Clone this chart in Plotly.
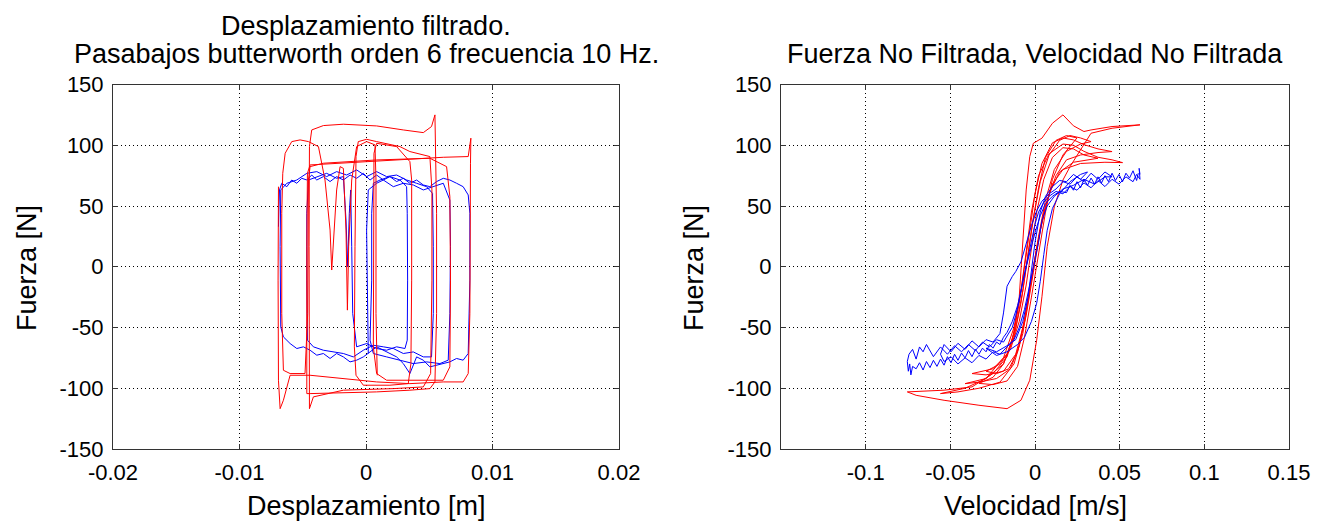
import plotly.graph_objects as go

# ---------------- Left panel: Fuerza vs Desplazamiento ----------------
disp_red = [-0.00692, -0.00695, -0.00692, -0.00679, -0.00653, -0.00600, -0.00442, -0.00179, 0.00084, 0.00347,
            0.00611, 0.00768, 0.00808, 0.00821, 0.00821, 0.00826, 0.00829, 0.00808, 0.00611, 0.00347,
            0.00084, -0.00179, -0.00442, -0.00463, -0.00468, -0.00468, -0.00468, -0.00442, -0.00179, 0.00084,
            0.00347, 0.00505, 0.00545, 0.00558, 0.00558, 0.00553, 0.00545, 0.00518, 0.00453, 0.00295,
            0.00084, -0.00179, -0.00337, -0.00429, -0.00447, -0.00450, -0.00450, -0.00447, -0.00416, -0.00179,
            0.00216, 0.00453, 0.00511, 0.00521, 0.00521, 0.00505, 0.00347, 0.00268, 0.00084, 0.00005,
            -0.00061, -0.00079, -0.00087, -0.00092, -0.00079, -0.00021, 0.00189, 0.00334, 0.00355, 0.00361,
            0.00361, 0.00347, 0.00242, 0.00084, 0.00063, 0.00058, 0.00058, 0.00084, 0.00163, 0.00611,
            0.00663, 0.00668, 0.00663, 0.00637, 0.00505, 0.00084, -0.00179, -0.00337, -0.00442, -0.00455,
            -0.00461, -0.00482, -0.00600, -0.00653, -0.00666, -0.00666, -0.00658, -0.00639, -0.00587, -0.00521,
            -0.00455, -0.00376, -0.00324, -0.00284, -0.00271, -0.00253, -0.00232, -0.00205, -0.00179, -0.00158,
            -0.00147, -0.00137, -0.00113, -0.00074, 0.00005, 0.00071, 0.00079, 0.00079, 0.00089]
force_red = [65.9, -11.0, -93.4, -116.8, -109.9, -89.3, -89.3, -92.0, -94.8, -96.2,
             -94.8, -94.8, -87.9, -38.5, 44.0, 85.2, 105.8, 90.7, 90.1, 88.5,
             86.8, 85.2, 83.8, 76.9, 16.5, -65.9, -104.4, -104.4, -103.8, -103.0,
             -101.6, -100.3, -94.8, -38.5, 44.0, 98.9, 125.0, 115.4, 110.4, 112.6,
             115.9, 117.3, 116.2, 112.6, 98.9, 16.5, -65.9, -116.8, -107.1, -101.6,
             -100.3, -98.9, -87.9, -11.0, 63.2, 90.7, 94.8, 98.9, 103.0, 104.9,
             103.0, 90.7, 16.5, -65.9, -89.3, -97.5, -97.5, -96.2, -79.7, -11.0,
             71.4, 86.5, 98.9, 101.6, 93.4, 16.5, -65.9, -87.9, -93.4, -93.4,
             -82.4, -11.0, 57.7, 82.4, 89.3, 87.9, 86.5, 85.2, 82.4, 71.4,
             -38.5, -87.9, -87.9, -85.2, -38.5, 44.0, 76.9, 93.4, 103.0, 104.4,
             103.0, 98.9, 71.4, 30.2, -2.7, 30.2, 63.2, 82.4, 81.0, 30.2,
             -35.7, 16.5, 71.4, 98.9, 103.0, 100.3, 71.4, -38.5, -89.3]

disp_blue = [-0.00692, -0.00684, -0.00666, -0.00626, -0.00587, -0.00547, -0.00508, -0.00468, -0.00429, -0.00389,
             -0.00337, -0.00284, -0.00232, -0.00179, -0.00126, -0.00074, -0.00021, 0.00032, 0.00084, 0.00137,
             0.00189, 0.00242, 0.00295, 0.00347, 0.00400, 0.00453, 0.00505, 0.00558, 0.00611, 0.00663,
             0.00716, 0.00768, 0.00808, 0.00821, 0.00821, 0.00816, 0.00808, 0.00768, 0.00716, 0.00663,
             0.00611, 0.00558, 0.00505, 0.00453, 0.00400, 0.00347, 0.00295, 0.00242, 0.00189, 0.00137,
             0.00084, 0.00032, -0.00021, -0.00074, -0.00126, -0.00179, -0.00232, -0.00284, -0.00337, -0.00389,
             -0.00442, -0.00495, -0.00547, -0.00600, -0.00653, -0.00674, -0.00679, -0.00674, -0.00626, -0.00547,
             -0.00468, -0.00389, -0.00311, -0.00232, -0.00153, -0.00074, 0.00005, 0.00084, 0.00163, 0.00242,
             0.00321, 0.00400, 0.00479, 0.00526, 0.00532, 0.00532, 0.00518, 0.00453, 0.00374, 0.00295,
             0.00216, 0.00137, 0.00058, -0.00021, -0.00100, -0.00179, -0.00258, -0.00337, -0.00416, -0.00463,
             -0.00468, -0.00468, -0.00455, -0.00389, -0.00311, -0.00232, -0.00179, -0.00158, -0.00145, -0.00132,
             -0.00121, -0.00113, -0.00105, -0.00074, 0.00005, 0.00084, 0.00163, 0.00242, 0.00308, 0.00326,
             0.00329, 0.00326, 0.00321, 0.00268, 0.00189, 0.00111, 0.00058, 0.00045, 0.00045, 0.00032,
             0.00058, 0.00163, 0.00268, 0.00374, 0.00479, 0.00584, 0.00650, 0.00663, 0.00668, 0.00663,
             0.00611, 0.00532, 0.00453, 0.00374, 0.00295, 0.00216, 0.00137, 0.00084, 0.00018, 0.00005,
             0.00011, 0.00018]
force_blue = [33.0, 63.2, 68.7, 65.9, 71.4, 68.7, 72.8, 71.4, 75.5, 71.4,
              74.2, 70.1, 74.2, 71.4, 75.5, 72.8, 76.9, 71.4, 75.5, 71.4,
              74.2, 70.1, 72.8, 68.7, 71.4, 67.3, 65.9, 70.1, 72.8, 71.4,
              68.7, 65.9, 59.1, 44.0, -11.0, -38.5, -71.4, -76.9, -75.5, -78.3,
              -79.7, -81.0, -82.4, -76.9, -74.2, -87.9, -79.7, -74.2, -71.4, -68.7,
              -65.9, -70.1, -74.2, -76.9, -78.3, -74.2, -71.4, -75.5, -71.4, -72.8,
              -68.7, -65.9, -67.3, -63.2, -57.7, -49.5, 16.5, 63.2, 68.7, 71.4,
              76.9, 78.3, 74.2, 78.3, 75.5, 79.7, 74.2, 78.3, 74.2, 75.5,
              71.4, 68.7, 65.9, 60.4, 16.5, -38.5, -74.2, -74.2, -70.1, -71.4,
              -67.3, -65.9, -64.6, -68.7, -74.2, -71.4, -70.1, -68.7, -65.9, -60.4,
              -11.0, 44.0, 71.4, 74.2, 76.9, 72.8, 74.2, 38.5, 0.0, 44.0,
              63.2, 16.5, -38.5, -65.9, -63.2, -67.3, -68.7, -65.9, -67.3, -60.4,
              -11.0, 44.0, 65.9, 71.4, 74.2, 71.4, 68.7, 44.0, -11.0, -60.4,
              -71.4, -74.2, -76.9, -79.7, -78.3, -79.7, -76.9, -38.5, 16.5, 54.9,
              68.7, 65.9, 63.2, 67.3, 68.7, 65.9, 71.4, 68.7, 63.2, 30.2,
              -33.0, -71.4]

# ---------------- Right panel: Fuerza vs Velocidad ----------------
vel_red_1 = [0.0620, 0.0455, 0.0331, 0.0289, 0.0227, 0.0165, 0.0103, 0.0041, -0.0010, -0.0031,
             -0.0052, -0.0066, -0.0079, -0.0093, -0.0124, -0.0165, -0.0248, -0.0372, -0.0537, -0.0754,
             -0.0702, -0.0537, -0.0331, -0.0165, -0.0083, -0.0031, 0.0010, 0.0041, 0.0072, 0.0114,
             0.0165, 0.0207, 0.0269, 0.0331, 0.0455, 0.0620]
force_red_1 = [116.8, 115.4, 112.6, 111.3, 116.0, 125.0, 118.1, 105.8, 101.6, 90.7,
               63.2, 30.2, 0.0, -24.7, -54.9, -74.2, -87.9, -98.9, -101.6, -103.0,
               -105.8, -109.9, -114.0, -116.8, -109.9, -93.4, -60.4, -24.7, 16.5, 49.4,
               71.4, 82.4, 96.2, 109.9, 114.0, 116.8]
vel_red_2 = [0.0517, 0.0455, 0.0372, 0.0289, 0.0227, 0.0165, 0.0083, 0.0021, -0.0021, -0.0052,
             -0.0083, -0.0124, -0.0186, -0.0289, -0.0413, -0.0558, -0.0455, -0.0331, -0.0207, -0.0124,
             -0.0072, -0.0031, 0.0010, 0.0052, 0.0103, 0.0165, 0.0269, 0.0413, 0.0517]
force_red_2 = [85.7, 88.0, 90.1, 95.0, 100.0, 101.0, 93.0, 75.0, 45.0, 10.0,
               -20.0, -50.0, -75.0, -92.0, -100.0, -104.4, -103.0, -100.0, -95.0, -80.0,
               -55.0, -20.0, 15.0, 45.0, 68.0, 80.0, 85.0, 86.0, 85.7]
vel_red_3 = [0.0455, 0.0372, 0.0289, 0.0227, 0.0165, 0.0103, 0.0041, 0.0000, -0.0031, -0.0062,
             -0.0093, -0.0134, -0.0186, -0.0289, -0.0413, -0.0331, -0.0227, -0.0145, -0.0093, -0.0052,
             -0.0010, 0.0031, 0.0072, 0.0124, 0.0186, 0.0269, 0.0372, 0.0455]
force_red_3 = [94.8, 97.0, 100.5, 104.4, 106.0, 102.0, 85.0, 60.0, 30.0, 0.0,
               -30.0, -60.0, -80.0, -92.0, -96.2, -95.0, -92.0, -84.0, -65.0, -35.0,
               0.0, 30.0, 55.0, 75.0, 88.0, 92.0, 94.0, 94.8]
vel_red_4 = [0.0331, 0.0269, 0.0207, 0.0145, 0.0083, 0.0031, -0.0010, -0.0041, -0.0072, -0.0114,
             -0.0165, -0.0248, -0.0372, -0.0289, -0.0186, -0.0114, -0.0062, -0.0021, 0.0021, 0.0062,
             0.0114, 0.0186, 0.0269, 0.0331]
force_red_4 = [103.0, 106.0, 108.0, 104.0, 92.0, 70.0, 40.0, 10.0, -20.0, -50.0,
               -72.0, -84.0, -87.9, -89.0, -86.0, -72.0, -45.0, -10.0, 25.0, 55.0,
               80.0, 95.0, 101.0, 103.0]
vel_red_5 = [0.0372, 0.0289, 0.0227, 0.0165, 0.0103, 0.0052, 0.0010, -0.0021, -0.0052, -0.0093,
             -0.0145, -0.0207, -0.0289, -0.0227, -0.0155, -0.0103, -0.0052, -0.0010, 0.0031, 0.0083,
             0.0145, 0.0227, 0.0372]
force_red_5 = [89.3, 92.0, 97.0, 98.0, 90.0, 72.0, 45.0, 15.0, -15.0, -45.0,
               -68.0, -80.0, -86.0, -88.0, -84.0, -70.0, -40.0, -5.0, 30.0, 60.0,
               78.0, 86.0, 89.3]
vel_red_6 = [0.0248, 0.0186, 0.0124, 0.0062, 0.0021, -0.0021, -0.0052, -0.0083, -0.0124, -0.0186,
             -0.0248, -0.0331, -0.0248, -0.0165, -0.0103, -0.0062, -0.0021, 0.0021, 0.0062, 0.0103,
             0.0165, 0.0248]
force_red_6 = [106.0, 108.0, 104.0, 90.0, 65.0, 30.0, 0.0, -30.0, -58.0, -80.0,
               -91.0, -96.0, -97.0, -94.0, -82.0, -58.0, -25.0, 10.0, 45.0, 72.0,
               92.0, 106.0]

vel_blue_1 = [0.0610, 0.0600, 0.0579, 0.0558, 0.0537, 0.0517, 0.0496, 0.0475, 0.0455, 0.0434,
              0.0413, 0.0393, 0.0372, 0.0352, 0.0331, 0.0310, 0.0289, 0.0269, 0.0248, 0.0227,
              0.0207, 0.0186, 0.0145, 0.0103, 0.0062, 0.0031, 0.0000, -0.0031, -0.0052, -0.0072,
              -0.0093, -0.0114, -0.0134, -0.0165, -0.0186, -0.0227, -0.0269, -0.0310, -0.0352, -0.0393,
              -0.0434, -0.0475, -0.0517, -0.0558, -0.0600, -0.0641, -0.0661, -0.0682, -0.0702, -0.0723,
              -0.0744, -0.0754, -0.0748, -0.0740, -0.0733, -0.0723, -0.0702, -0.0682, -0.0661, -0.0641,
              -0.0620, -0.0600, -0.0579, -0.0558, -0.0537, -0.0517, -0.0496, -0.0475, -0.0455, -0.0434,
              -0.0413, -0.0393, -0.0372, -0.0352, -0.0331, -0.0310, -0.0289, -0.0269, -0.0248, -0.0227,
              -0.0207, -0.0186, -0.0165, -0.0134, -0.0103, -0.0083, -0.0062, -0.0041, -0.0021, 0.0000,
              0.0021, 0.0052, 0.0083, 0.0124, 0.0165, 0.0207, 0.0248, 0.0289, 0.0331, 0.0372,
              0.0413, 0.0455, 0.0496, 0.0537, 0.0579, 0.0600, 0.0620, 0.0615, 0.0620]
force_blue_1 = [77, 71, 79, 73, 77, 70, 76, 71, 77, 70,
                75, 69, 74, 68, 73, 67, 72, 65, 70, 63,
                67, 61, 62, 58, 52, 42, 28, 12, 0, -12,
                -28, -40, -50, -57, -62, -60, -66, -62, -69, -64,
                -70, -65, -72, -66, -74, -64, -70, -66, -76, -68,
                -72, -78, -86, -80, -89, -82, -84, -79, -85, -78,
                -83, -77, -82, -76, -81, -74, -79, -72, -77, -71,
                -75, -69, -74, -68, -72, -67, -70, -64, -67, -62,
                -64, -58, -54, -45, -32, -20, -6, 8, 22, 35,
                45, 53, 58, 62, 60, 66, 63, 69, 65, 71,
                66, 72, 68, 74, 70, 76, 72, 81, 76]
vel_blue_2 = [0.0455, 0.0413, 0.0372, 0.0331, 0.0289, 0.0248, 0.0207, 0.0165, 0.0124, 0.0083,
              0.0041, 0.0010, -0.0021, -0.0052, -0.0083, -0.0114, -0.0134, -0.0165, -0.0186, -0.0207,
              -0.0248, -0.0289, -0.0331, -0.0372, -0.0413, -0.0455, -0.0496, -0.0537, -0.0558, -0.0537,
              -0.0496, -0.0455, -0.0413, -0.0372, -0.0331, -0.0289, -0.0248, -0.0207, -0.0165, -0.0124,
              -0.0093, -0.0062, -0.0031, 0.0000, 0.0021, 0.0041, 0.0072, 0.0114, 0.0165, 0.0227,
              0.0289, 0.0352, 0.0413, 0.0455]
force_blue_2 = [74, 78, 72, 77, 70, 74, 68, 70, 64, 60,
                54, 46, 34, 18, 4, -4, -8, -16, -38, -55,
                -62, -60, -66, -61, -68, -63, -70, -64, -72, -78,
                -74, -80, -75, -79, -73, -76, -70, -72, -66, -60,
                -50, -35, -15, 5, 20, 38, 50, 58, 64, 67,
                72, 68, 74, 74]
vel_blue_3 = [0.0310, 0.0269, 0.0227, 0.0186, 0.0145, 0.0103, 0.0062, 0.0031, 0.0000, -0.0021,
              -0.0041, -0.0072, -0.0114, -0.0165, -0.0227, -0.0289, -0.0227, -0.0165, -0.0103, -0.0062,
              -0.0021, 0.0010, 0.0031, 0.0052, 0.0072, 0.0103, 0.0145, 0.0207, 0.0269, 0.0310]
force_blue_3 = [78, 72, 76, 70, 71, 66, 58, 45, 20, -5,
                -25, -45, -60, -65, -70, -67, -73, -70, -64, -58,
                -45, -30, -12, 10, 30, 48, 60, 70, 76, 78]

# ---------------- Figure ----------------
RED = "#ff0000"
BLUE = "#0000ff"
FAMILY = "Liberation Sans, Arial, Helvetica, sans-serif"
TICKFONT = dict(family=FAMILY, size=22, color="black")
LABELFONT = dict(family=FAMILY, size=27, color="black")

fig = go.Figure()
fig.add_trace(go.Scatter(x=disp_blue, y=force_blue, mode="lines",
                         line=dict(color=BLUE, width=1), xaxis="x", yaxis="y", showlegend=False))
fig.add_trace(go.Scatter(x=disp_red, y=force_red, mode="lines",
                         line=dict(color=RED, width=1), xaxis="x", yaxis="y", showlegend=False))

for vx, fy in [(vel_red_1, force_red_1), (vel_red_2, force_red_2), (vel_red_3, force_red_3),
               (vel_red_4, force_red_4), (vel_red_5, force_red_5), (vel_red_6, force_red_6)]:
    fig.add_trace(go.Scatter(x=vx, y=fy, mode="lines", line=dict(color=RED, width=1),
                             xaxis="x2", yaxis="y2", showlegend=False))
for vx, fy in [(vel_blue_1, force_blue_1), (vel_blue_2, force_blue_2), (vel_blue_3, force_blue_3)]:
    fig.add_trace(go.Scatter(x=vx, y=fy, mode="lines", line=dict(color=BLUE, width=1),
                             xaxis="x2", yaxis="y2", showlegend=False))

W, H = 1320, 524
L_DOM = [113 / W, 619 / W]
R_DOM = [781 / W, 1289 / W]
Y_DOM = [(H - 449) / H, (H - 84.5) / H]

disp_ticks = [-0.02, -0.01, 0, 0.01, 0.02]
disp_labels = ["-0.02", "-0.01", "0", "0.01", "0.02"]
vel_ticks = [-0.1, -0.05, 0, 0.05, 0.1, 0.15]
vel_labels = ["-0.1", "-0.05", "0", "0.05", "0.1", "0.15"]
force_ticks = [-150, -100, -50, 0, 50, 100, 150]
force_labels = ["-150", "-100", "-50", "0", "50", "100", "150"]

common = dict(showline=True, linecolor="#333333", linewidth=1, mirror="allticks",
              ticks="inside", ticklen=5, tickcolor="#333333", tickwidth=1,
              showgrid=True, gridcolor="black", gridwidth=1, griddash="1px,3px",
              zeroline=False, tickfont=TICKFONT, automargin=False)

fig.update_layout(
    width=W, height=H, margin=dict(l=0, r=0, t=0, b=0, autoexpand=False),
    paper_bgcolor="white", plot_bgcolor="white", font=TICKFONT, showlegend=False,
    xaxis=dict(domain=L_DOM, range=[-0.02, 0.02], tickvals=disp_ticks, ticktext=disp_labels,
               anchor="y", ticklabelstandoff=4, **common),
    yaxis=dict(domain=Y_DOM, range=[-150, 150], tickvals=force_ticks, ticktext=force_labels,
               anchor="x", ticklabelstandoff=4, **common),
    xaxis2=dict(domain=R_DOM, range=[-0.15, 0.15], tickvals=vel_ticks, ticktext=vel_labels,
                anchor="y2", ticklabelstandoff=4, **common),
    yaxis2=dict(domain=Y_DOM, range=[-150, 150], tickvals=force_ticks, ticktext=force_labels,
                anchor="x2", ticklabelstandoff=4, **common),
)

ann = [
    dict(text="Desplazamiento filtrado.", x=366 / W, y=1 - 26 / H),
    dict(text="Pasabajos butterworth orden 6 frecuencia 10 Hz.", x=366 / W, y=1 - 54 / H),
    dict(text="Fuerza No Filtrada, Velocidad No Filtrada", x=1035 / W, y=1 - 54 / H),
    dict(text="Desplazamiento [m]", x=366 / W, y=1 - 506 / H),
    dict(text="Velocidad [m/s]", x=1035 / W, y=1 - 506 / H),
    dict(text="Fuerza [N]", x=27 / W, y=1 - 268 / H, textangle=-90),
    dict(text="Fuerza [N]", x=694 / W, y=1 - 268 / H, textangle=-90),
]
for a in ann:
    fig.add_annotation(xref="paper", yref="paper", xanchor="center", yanchor="middle",
                       showarrow=False, font=LABELFONT, **a)

fig.write_html("out.html")
